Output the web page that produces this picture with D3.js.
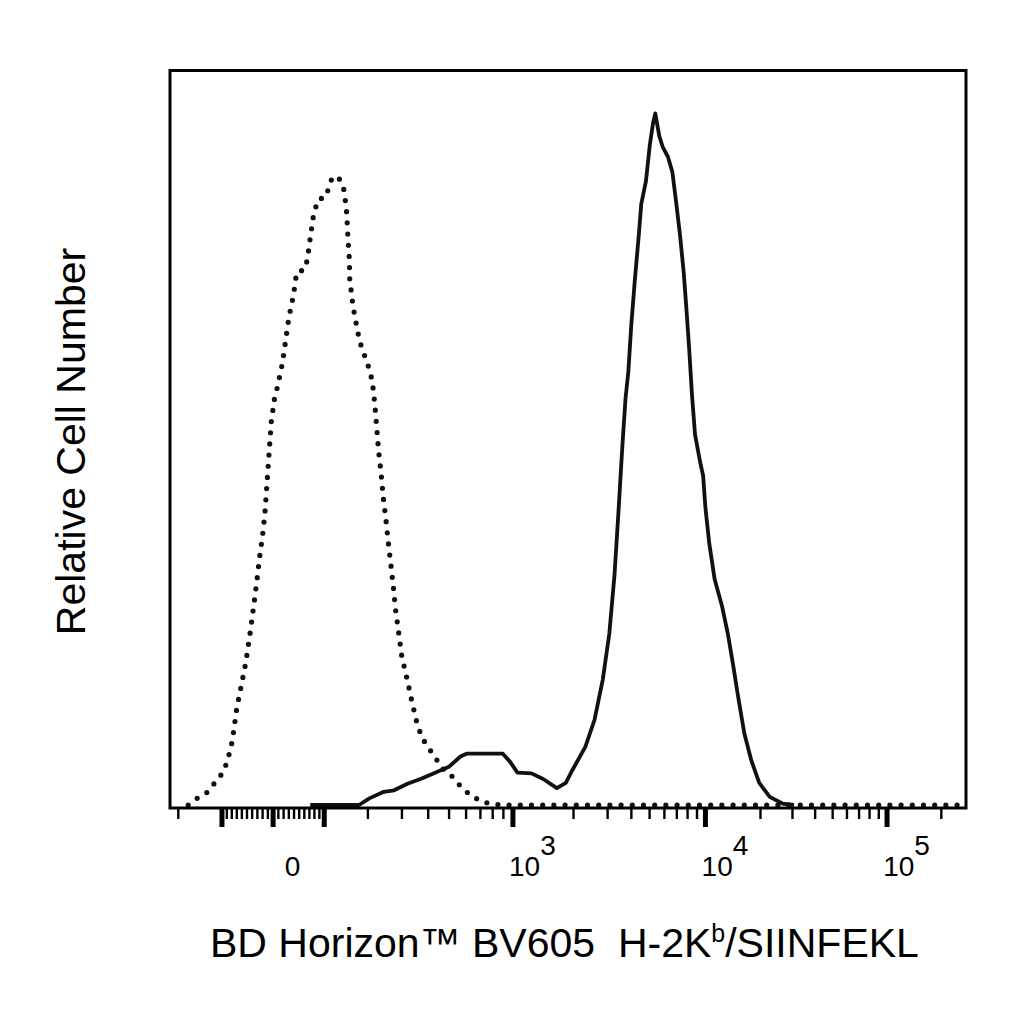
<!DOCTYPE html>
<html>
<head>
<meta charset="utf-8">
<script src="https://cdn.jsdelivr.net/npm/d3@7"></script>
<style>
  html, body { margin: 0; padding: 0; background: #fff; }
  svg { display: block; }
  text { font-family: "Liberation Sans", Arial, Helvetica, sans-serif; fill: #000; white-space: pre; }
</style>
</head>
<body>
<svg id="chart" width="1024" height="1024"></svg>
<script>
// ---------- data (fluorescence intensity, relative count) ----------
const dotted = [
  [-174,0],[-156,0.8],[-131,1.7],[-113,3.1],[-96,4.5],[-87,6.2],[-78,8.7],[-69,13.2],[-60,16.3],
  [-51,19.5],[-42,23.9],[-36,27.1],[-30,30.5],[-25,33.6],[-19,36.7],[-14.5,39.8],[-11.5,42.9],
  [-8.5,46.0],[-5.5,49.1],[-2.4,52.2],[3.6,55.3],[9.6,57.0],[18.7,60.1],[24.9,63.2],[30.9,66.3],
  [40,69.4],[46,72.5],[61,72.8],[67,74.2],[73,77.3],[79.5,80.4],[88.5,82.4],[104,82.7],[111,84.1],
  [118.5,85.5],[133,85.2],[143,83.8],[147,82.1],[150,80.4],[152.5,77.3],[156,74.2],[157,71.1],
  [161,69.7],[164,68.0],[169.5,66.3],[174,64.9],[179,63.5],[186,62.1],[196,60.7],[205,59.3],
  [213,57.6],[220,54.4],[225,51.3],[230,48.2],[237,45.2],[243,42.0],[251,38.9],[258,35.8],
  [266,32.7],[274,29.6],[281,26.5],[291,23.4],[301,20.3],[319,17.2],[335,14.4],[355,11.3],
  [375,9.2],[401,7.9],[433,6.5],[467,5.0],[519,3.9],[563,2.7],[627,1.4],[720,0.4],[878,0],
  [275000,0]
];
const solid = [
  [72.7,0],[179,0],[205,0.9],[245,1.8],[276,2.0],[321,2.9],[375,3.6],[433,4.4],[502,5.2],
  [568,6.6],[609,7.0],[897,7.0],[973,5.9],[1058,4.4],[1239,4.3],[1422,3.5],[1656,2.3],
  [1839,3.0],[1990,4.8],[2313,7.9],[2581,11.6],[2850,17.1],[3080,23.3],[3280,31.3],[3452,40.5],
  [3612,49.1],[3748,55.3],[3880,59.0],[4017,65.2],[4195,71.3],[4405,77.5],[4542,81.8],
  [4805,84.8],[5044,89.8],[5250,92.8],[5394,94.1],[5669,91.0],[5919,89.5],[6308,88.2],
  [6667,86.1],[7000,81.8],[7330,77.5],[7670,72.5],[7930,67.6],[8212,62.1],[8500,55.9],
  [8837,50.4],[9411,46.7],[9778,44.8],[10056,40.5],[10556,35.6],[11296,30.7],[12407,27.0],
  [13333,23.3],[14259,19.0],[15185,14.7],[16426,9.7],[17963,6.0],[19815,3.0],[22647,1.1],
  [26559,0.2],[30773,0]
];
const majorTicks = [-100, 0, 100, 1000, 10000, 100000];
const minorTicks = [-200,-90,-80,-70,-60,-50,-40,-30,-20,-10,10,20,30,40,50,60,70,80,90,
  200,300,400,500,600,700,800,900,2000,3000,4000,5000,6000,7000,8000,9000,
  20000,30000,40000,50000,60000,70000,80000,90000,200000];
const tickLabels = [
  {value: 0, base: "0", exp: ""},
  {value: 1000, base: "10", exp: "3"},
  {value: 10000, base: "10", exp: "4"},
  {value: 100000, base: "10", exp: "5"}
];
const xTitle = ["BD Horizon™ BV605  H-2K", "b", "/SIINFEKL"];
const yTitle = "Relative Cell Number";

// ---------- logicle (biexponential) transform ----------
const T = 262144, W = 0.67, M = 4.5, A = 0;
function logicle(T, W, M, A) {
  const w = W / (M + A), x2 = A / (M + A), x1 = x2 + w, x0 = x2 + 2 * w, b = (M + A) * Math.LN10;
  const g = d => 2 * (Math.log(d) - Math.log(b)) + w * (b + d);
  let lo = 1e-9, hi = b;
  for (let i = 0; i < 200; i++) { const m = (lo + hi) / 2; if (g(m) > 0) hi = m; else lo = m; }
  const d = (lo + hi) / 2;
  const ca = Math.exp(x0 * (b + d)), mfa = Math.exp(b * x1) - ca * Math.exp(-d * x1);
  const a = T / (Math.exp(b) - mfa - ca / Math.exp(d)), c = ca * a, f = -mfa * a;
  const Spos = x => a * Math.exp(b * x) - c * Math.exp(-d * x) + f;
  function D(v) {
    if (v < 0) return 2 * x1 - D(-v);
    let l = x1, h = 1.5;
    while (Spos(h) < v) h += 0.5;
    for (let i = 0; i < 100; i++) { const m = (l + h) / 2; if (Spos(m) < v) l = m; else h = m; }
    return (l + h) / 2;
  }
  return D;
}
const Dfun = logicle(T, W, M, A);

// ---------- layout ----------
const plotL = 170, plotR = 966, plotT = 70.5, plotB = 808, zeroY = 805;
const decadePx = 180, topPx = 962;            // pixel width of one decade, pixel of T
const xLin = d3.scaleLinear().domain([0, 1]).range([topPx - M * decadePx, topPx]);
function makeX() {
  const s = v => xLin(Dfun(v));
  s.domain = () => [-200, T];
  s.range = () => [plotL, plotR];
  s.copy = makeX;
  return s;
}
const x = makeX();
const y = d3.scaleLinear().domain([0, 100]).range([zeroY, plotT - 0.5]);

const svg = d3.select("#chart");
svg.append("rect").attr("width", 1024).attr("height", 1024).attr("fill", "#fff");

svg.append("clipPath").attr("id", "plotclip")
  .append("rect").attr("x", plotL).attr("y", plotT).attr("width", plotR - plotL).attr("height", plotB - plotT);

const line = d3.line().x(d => x(d[0])).y(d => y(d[1]));

// dotted (control) histogram
svg.append("path").datum(dotted)
  .attr("clip-path", "url(#plotclip)")
  .attr("d", line)
  .attr("fill", "none")
  .attr("stroke", "#111")
  .attr("stroke-width", 5.2)
  .attr("stroke-linecap", "round")
  .attr("stroke-dasharray", "0 11.2");

// solid (stained) histogram
svg.append("path").datum(solid)
  .attr("d", line)
  .attr("fill", "none")
  .attr("stroke", "#111")
  .attr("stroke-width", 3.8)
  .attr("stroke-linejoin", "round");

// frame
svg.append("rect")
  .attr("x", plotL).attr("y", plotT)
  .attr("width", plotR - plotL).attr("height", plotB - plotT)
  .attr("fill", "none").attr("stroke", "#000").attr("stroke-width", 3);

// ticks
const gMinor = svg.append("g").attr("transform", `translate(0,${plotB})`)
  .call(d3.axisBottom(x).tickValues(minorTicks).tickSize(11).tickFormat(() => ""));
gMinor.select(".domain").remove();
gMinor.selectAll(".tick line").attr("stroke", "#000").attr("stroke-width", 2.4);

const gMajor = svg.append("g").attr("transform", `translate(0,${plotB})`)
  .call(d3.axisBottom(x).tickValues(majorTicks).tickSize(19).tickFormat(() => ""));
gMajor.select(".domain").remove();
gMajor.selectAll(".tick line").attr("stroke", "#000").attr("stroke-width", 5);

// tick labels
const lab = svg.append("g");
tickLabels.forEach(t => {
  const txt = lab.append("text")
    .attr("x", x(t.value) + 20).attr("y", 876)
    .attr("text-anchor", "middle")
    .attr("font-size", 28);
  txt.append("tspan").text(t.base);
  if (t.exp) txt.append("tspan").attr("dy", -21).text(t.exp);
});

// axis titles
const xt = svg.append("text").attr("x", 210).attr("y", 957).attr("font-size", 41)
  .attr("xml:space", "preserve");
xt.append("tspan").text(xTitle[0]);
xt.append("tspan").attr("font-size", 25).attr("dy", -15).text(xTitle[1]);
xt.append("tspan").attr("dy", 15).text(xTitle[2]);

svg.append("text")
  .attr("transform", "translate(85,441.5) rotate(-90)")
  .attr("text-anchor", "middle")
  .attr("font-size", 41)
  .text(yTitle);
</script>
</body>
</html>
